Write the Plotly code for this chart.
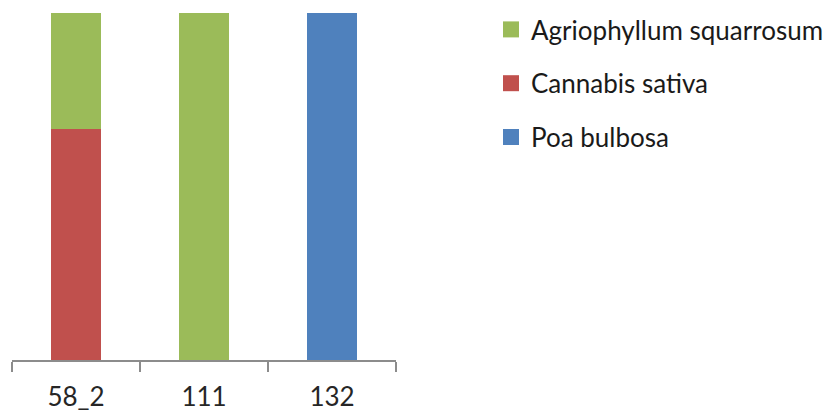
import plotly.graph_objects as go

# Samples on the x axis and the share (%) of each species in each sample
samples = ["58_2", "111", "132"]
species = ["Cannabis sativa", "Agriophyllum squarrosum", "Poa bulbosa"]
shares = {
    "Cannabis sativa": [66.7, 0, 0],
    "Agriophyllum squarrosum": [33.3, 100, 0],
    "Poa bulbosa": [0, 0, 100],
}
colors = {
    "Agriophyllum squarrosum": "#9BBB59",
    "Cannabis sativa": "#C0504D",
    "Poa bulbosa": "#4F81BD",
}
legend_order = ["Agriophyllum squarrosum", "Cannabis sativa", "Poa bulbosa"]

fig = go.Figure()

# Stacked bars (bottom to top: Cannabis, Agriophyllum, Poa)
for name in species:
    fig.add_trace(go.Bar(
        x=samples, y=shares[name], name=name,
        marker=dict(color=colors[name], line=dict(width=0)),
        showlegend=False,
    ))

# Legend entries drawn with larger square swatches
for i, name in enumerate(legend_order):
    fig.add_trace(go.Scatter(
        x=[None], y=[None], mode="markers", name=name,
        marker=dict(symbol="square", size=16, color=colors[name]),
        legendgroup=f"g{i}", showlegend=True,
    ))

fig.update_layout(
    width=836, height=412,
    margin=dict(l=12, r=440, t=13, b=52, autoexpand=False),
    barmode="stack",
    bargap=0.61,
    paper_bgcolor="white",
    plot_bgcolor="white",
    font=dict(family="Lato, 'Open Sans', sans-serif", size=26, color="#262626"),
    legend=dict(
        xref="container", yref="container",
        x=491 / 836, y=1 - 6 / 412, xanchor="left", yanchor="top",
        traceorder="grouped", tracegroupgap=17,
        font=dict(size=26, color="#1a1a1a"),
        bgcolor="rgba(0,0,0,0)",
        itemclick=False, itemdoubleclick=False,
    ),
    xaxis=dict(
        type="category", automargin=False,
        showline=True, linecolor="#8c8c8c", linewidth=1.5,
        ticks="outside", tickson="boundaries", ticklen=10,
        tickcolor="#8c8c8c", tickwidth=1.5,
        ticklabelstandoff=13,
        showgrid=False, zeroline=False,
        tickfont=dict(size=26, color="#262626"),
    ),
    yaxis=dict(
        range=[0, 100], visible=False, showgrid=False, zeroline=False,
        automargin=False,
    ),
)

fig.write_html("out.html")
